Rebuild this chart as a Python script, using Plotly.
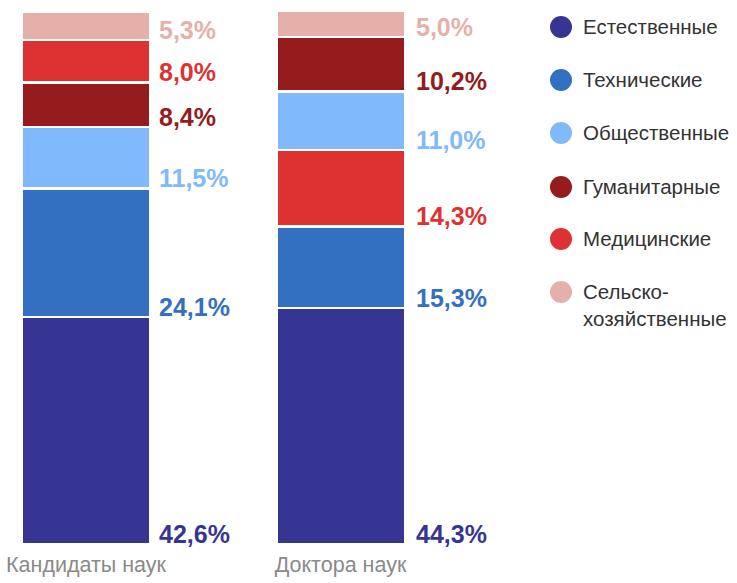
import plotly.graph_objects as go

categories = ["Кандидаты наук", "Доктора наук"]
fields = ["Естественные", "Технические", "Общественные", "Гуманитарные", "Медицинские",
          "Сельско-<br>хозяйственные"]
candidates = [42.6, 24.1, 11.5, 8.4, 8.0, 5.3]
doctors = [44.3, 15.3, 11.0, 10.2, 14.3, 5.0]
colors = ["#363594", "#3470c2", "#80bafd", "#961b1d", "#de3232", "#e6b0aa"]

FONT = "Liberation Sans, Arial, sans-serif"
W, H = 737, 583
ML, MR, MT, MB = 0, 0, 11, 39

fig = go.Figure()
annotations = []
for ci, (cat, vals) in enumerate(zip(categories, [candidates, doctors])):
    order = sorted(range(len(vals)), key=lambda i: -vals[i])
    base = 0.0
    for i in order:
        fig.add_trace(go.Bar(
            x=[cat], y=[vals[i]], name=fields[i], width=0.505,
            marker=dict(color=colors[i], line=dict(color="white", width=2.5)),
            showlegend=False, hoverinfo="skip"))
        annotations.append(dict(
            x=cat, y=base, xref="x", yref="y", text=f"{vals[i]:.1f}%".replace(".", ","),
            showarrow=False, xanchor="left", yanchor="bottom",
            xshift=72 + ci * 2, yshift=-5,
            borderpad=0,
            font=dict(family=FONT, size=25, color=colors[i], weight="bold")))
        base += vals[i]

# legend (manual, circle markers)
shapes = []
plot_h = H - MT - MB
def py(ypx):
    return (H - MB - ypx) / plot_h
centers = [27, 80, 133, 187, 239, 292]
for i, name in enumerate(fields):
    cy = centers[i]
    shapes.append(dict(type="circle", xref="paper", yref="paper",
                       x0=550 / W, x1=572 / W, y0=py(cy + 11), y1=py(cy - 11),
                       fillcolor=colors[i], line=dict(width=0)))
    annotations.append(dict(x=582 / W, y=py(cy - 13), xref="paper", yref="paper",
                            text=name, showarrow=False, xanchor="left", yanchor="top",
                            align="left", borderpad=0,
                            font=dict(family=FONT, size=20.5, color="#333333")))

fig.update_layout(
    width=W, height=H, margin=dict(l=ML, r=MR, t=MT, b=MB),
    barmode="stack", plot_bgcolor="white", paper_bgcolor="white",
    xaxis=dict(type="category", range=[-0.338, 2.558], showgrid=False, zeroline=False,
               showline=False, ticks="", ticklabelstandoff=5,
               tickfont=dict(family=FONT, size=21.5, color="#8a8a8a")),
    yaxis=dict(range=[0, 100], visible=False),
    annotations=annotations, shapes=shapes, showlegend=False,
)
fig.write_html("out.html", config={"displayModeBar": False},
               post_script="document.body.style.margin='0';")
